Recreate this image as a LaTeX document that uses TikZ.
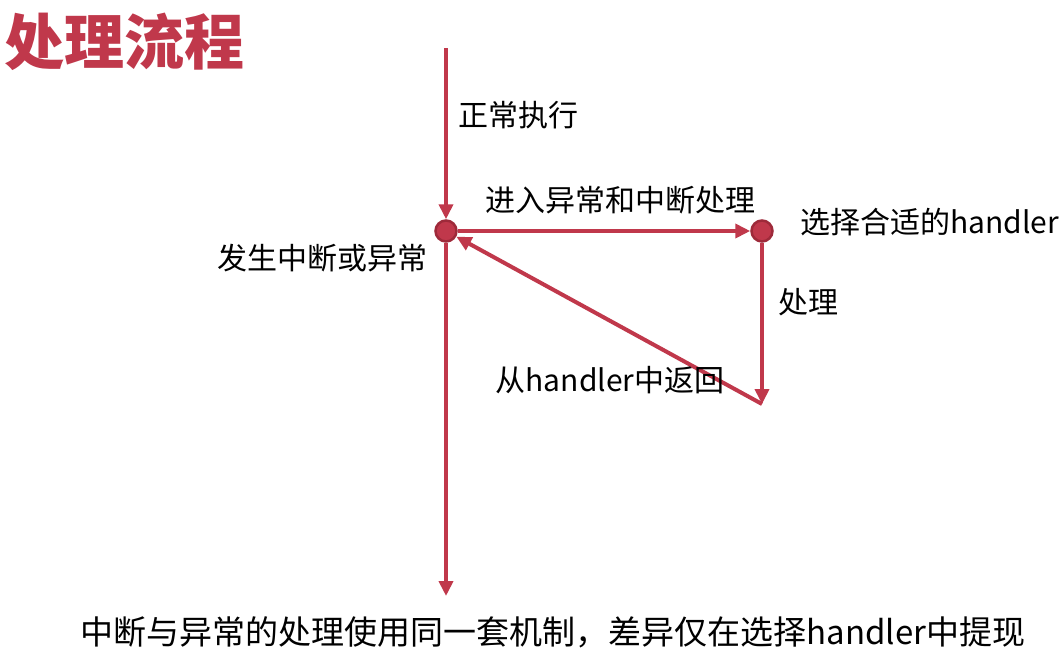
\documentclass[tikz,border=0pt]{standalone}
\usepackage{fontspec}
\setmainfont{Noto Sans CJK SC}
\usetikzlibrary{arrows.meta,positioning}
\definecolor{flowred}{HTML}{C0384B}
\definecolor{flowdark}{HTML}{9E2A3A}

\begin{document}
\begin{tikzpicture}[x=1pt,y=-1pt,>={Triangle[length=15pt,width=14pt]},
    flow/.style={draw=flowred,line width=4pt},
    dot/.style={circle,draw=flowdark,fill=flowred,line width=2.5pt,minimum size=21pt,inner sep=0pt},
    lbl/.style={inner sep=0pt,font=\fontsize{30}{34}\selectfont}]
  \useasboundingbox (0,0) rectangle (1062,651);
  \node[anchor=west,inner sep=0pt,text=flowred,font=\fontsize{60}{64}\selectfont\bfseries] (title) at (4,42) {处理流程};
  \coordinate (start) at (446,48);
  \node[dot] (trap) at (446,231) {};
  \node[dot] (pick) at (762,231) {};
  \coordinate (done) at (762,404);
  \coordinate (stop) at (446,596);
  \draw[flow,->] (start) -- (trap);
  \draw[flow,->] (trap) -- (stop);
  \draw[flow,->] (trap) -- (pick);
  \draw[flow,->] (pick) -- (done);
  \draw[flow,->] (done) -- (trap);
  \node[lbl,anchor=west] (run) at (458,115) {正常执行};
  \node[lbl] (enter) at (620,200) {进入异常和中断处理};
  \node[lbl,anchor=west] (choose) at (800,222) {选择合适的handler};
  \node[lbl,anchor=east] (occur) at (428,258) {发生中断或异常};
  \node[lbl,anchor=west] (handle) at (778,302) {处理};
  \node[lbl] (back) at (610,380) {从handler中返回};
  \node[inner sep=0pt,font=\fontsize{33}{38}\selectfont] (note) at (553,632) {中断与异常的处理使用同一套机制，差异仅在选择handler中提现};
\end{tikzpicture}
\end{document}
